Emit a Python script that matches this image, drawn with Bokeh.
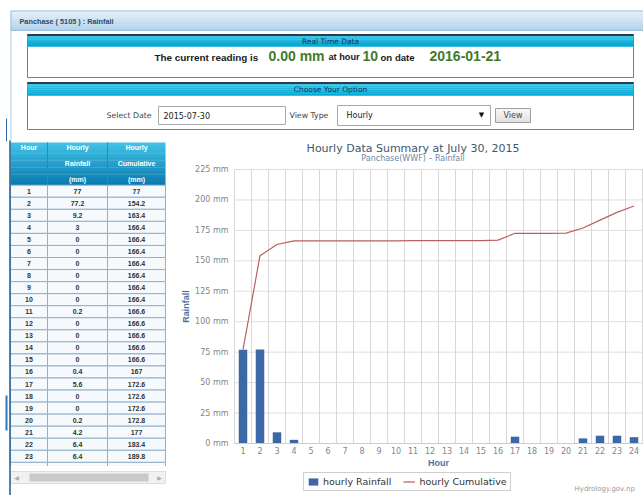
from bokeh.plotting import figure
from bokeh.models import (Range1d, FixedTicker, PrintfTickFormatter, Legend, LegendItem,
                          LinearAxis)
from bokeh.core.properties import value
from bokeh.embed import file_html
from bokeh.resources import INLINE

# ---------------- data ----------------
hours = list(range(1, 25))
rainfall = [77, 77.2, 9.2, 3, 0, 0, 0, 0, 0, 0, 0.2, 0, 0, 0, 0, 0.4, 5.6, 0, 0, 0.2, 4.2, 6.4, 6.4, 5.2]
cumulative = [77, 154.2, 163.4, 166.4, 166.4, 166.4, 166.4, 166.4, 166.4, 166.4, 166.6, 166.6,
              166.6, 166.6, 166.6, 167, 172.6, 172.6, 172.6, 172.8, 177, 183.4, 189.8, 195]
y_ticks = [0, 25, 50, 75, 100, 125, 150, 175, 200, 225]
table_headers = [["Hour"], ["Hourly", "Rainfall", "(mm)"], ["Hourly", "Cumulative", "(mm)"]]
station_title = "Panchase ( 5105 ) : Rainfall"
chart_title = "Hourly Data Summary at July 30, 2015"
chart_subtitle = "Panchase(WWF) \u2013 Rainfall"
current_value = "0.00 mm"
current_hour = "10"
current_date = "2016-01-21"
selected_date = "2015-07-30"
view_type = "Hourly"
credit = "Hydrology.gov.np"

UI = "DejaVu Sans"
ARIAL = "Liberation Sans"

# ---------------- page geometry (pixels) ----------------
W, H = 643, 495
PLOT_L, PX_PER_HOUR = 234, 17.0
PLOT_T, PLOT_B = 169, 443
ROW_H, HDR_TOP, HDR_BOT = 12.05, 142, 184.7

x_start = hours[0] - 0.5 - PLOT_L / PX_PER_HOUR
x_end = x_start + W / PX_PER_HOUR
y_scale = (PLOT_B - PLOT_T) / y_ticks[-1]
y_start = -(H - PLOT_B) / y_scale
y_end = PLOT_B / y_scale


def r(px):
    return (px - HDR_BOT) / ROW_H + 0.5


p = figure(width=W, height=H, x_range=Range1d(x_start, x_end), y_range=Range1d(y_start, y_end),
           output_backend="svg", toolbar_location=None, min_border=0,
           x_axis_location=None, y_axis_location=None)
p.extra_x_ranges = {"px": Range1d(0, W)}
p.extra_y_ranges = {"px": Range1d(H, 0), "row": Range1d(r(H), r(0))}
p.grid.visible = False
p.outline_line_color = None
p.background_fill_color = "white"
p.border_fill_color = "white"

PX = dict(x_range_name="px", y_range_name="px")


def mix(c1, c2, t):
    a = [int(c1[i:i + 2], 16) for i in (1, 3, 5)]
    b = [int(c2[i:i + 2], 16) for i in (1, 3, 5)]
    return "#%02x%02x%02x" % tuple(round(a[k] + (b[k] - a[k]) * t) for k in range(3))


def add_text(x, y, s, size, color, font=UI, style="normal", align="left", angle=0.0):
    p.text(x=[x], y=[y], text=[s], text_font=value(font), text_font_size=value(size),
           text_color=color, text_font_style=style, text_align=align, text_baseline="middle",
           angle=angle, **PX)


def gradient(x0, x1, y0, y1, c_top, c_bot, n=8):
    h = (y1 - y0) / n
    p.quad(left=[x0] * n, right=[x1] * n,
           top=[y0 + i * h for i in range(n)], bottom=[y0 + (i + 1) * h + 0.3 for i in range(n)],
           fill_color=[mix(c_top, c_bot, i / (n - 1)) for i in range(n)], line_color=None, **PX)


def box(x0, x1, y0, y1, fill, line, lw=1):
    p.quad(left=[x0], right=[x1], top=[y0], bottom=[y1], fill_color=fill, line_color=line,
           line_width=lw, **PX)


def vline(x, y0, y1, color, lw=1):
    p.segment(x0=[x], y0=[y0], x1=[x], y1=[y1], line_color=color, line_width=lw, **PX)


# ---------------- page header + panels ----------------
gradient(10, 644, 10, 30, "#e3eff9", "#b0d1eb", n=10)
box(10.5, 644, 10.5, 30, None, "#9ac0de")
add_text(19, 20.5, station_title, "7.3px", "#2f4a66", ARIAL, "bold")
vline(10.5, 30, 140, "#a9c9e3")
vline(6, 118, 141, "#2a6da8", 1)
vline(6, 395, 430, "#2a7ac0", 2)

# Real time data panel
box(27, 633, 34, 77, "white", "#7d7d7d")
gradient(27, 633, 35, 46, "#3ac2e6", "#03a8d3", n=6)
p.segment(x0=[27], y0=[34.5], x1=[633], y1=[34.5], line_color="#2b3d4a", line_width=2, **PX)
add_text(330, 40.7, "Real Time Data", "7.5px", "#1b3550", UI, "normal", "center")
add_text(154, 56.5, "The current reading is", "9.9px", "#1a1a1a", ARIAL, "bold")
add_text(268, 55.5, current_value, "14px", "#3f7b2b", ARIAL, "bold")
add_text(328, 56.5, "at hour", "9.2px", "#1a1a1a", ARIAL, "bold")
add_text(362, 55.5, current_hour, "14px", "#3f7b2b", ARIAL, "bold")
add_text(380, 56.5, "on date", "9.6px", "#1a1a1a", ARIAL, "bold")
add_text(429, 55.5, current_date, "14px", "#3f7b2b", ARIAL, "bold")

# Choose your option panel
box(27, 633, 82, 129, "white", "#7d7d7d")
gradient(27, 633, 83, 95, "#3ac2e6", "#03a8d3", n=6)
p.segment(x0=[27], y0=[82.5], x1=[633], y1=[82.5], line_color="#2b3d4a", line_width=2, **PX)
add_text(330, 89, "Choose Your Option", "7.5px", "#1b3550", UI, "normal", "center")
add_text(106, 115, "Select Date", "7.8px", "#444444", UI)
box(158, 285, 106, 124, "white", "#a9a9a9")
add_text(163, 115, selected_date, "8px", "#222222", UI)
add_text(289, 115, "View Type", "7.8px", "#444444", UI)
box(337, 490, 105, 125, "white", "#a9a9a9")
add_text(346, 115, view_type, "8px", "#222222", UI)
add_text(481, 114.5, "\u25bc", "7px", "#111111", UI, "normal", "center")
gradient(495, 530, 108, 122, "#f7f7f7", "#e2e2e2", n=5)
box(495, 530, 108, 122, None, "#a0a0a0")
add_text(512.5, 115, "View", "8px", "#444444", UI, "normal", "center")

# ---------------- data table ----------------
col_edges = [10, 47, 107, 165]
col_centers = [(col_edges[i] + col_edges[i + 1]) / 2 for i in range(3)]

gradient(10, 165, HDR_TOP, HDR_BOT, "#3fc0e4", "#0b7db0", n=12)
for xe in col_edges[1:3]:
    vline(xe, HDR_TOP, HDR_BOT, "#2a8ab7")
header_rows = [147, 163, 179]
for j, lines in enumerate(table_headers):
    for k, s in enumerate(lines):
        add_text(col_centers[j], header_rows[k], s, "7px", "white", ARIAL, "bold", "center")

row_top = [h - 0.5 for h in hours]
row_bot = [h + 0.5 for h in hours]
for j in range(3):
    p.quad(left=[col_edges[j]] * len(hours), right=[col_edges[j + 1]] * len(hours),
           top=row_top, bottom=row_bot, fill_color="#f6fafd", line_color="#8fb0ca", line_width=1,
           x_range_name="px", y_range_name="row")
cols_text = [[str(h) for h in hours], [f"{v:g}" for v in rainfall], [f"{v:g}" for v in cumulative]]
for j in range(3):
    p.text(x=[col_centers[j]] * len(hours), y=hours, text=cols_text[j],
           text_font=value(ARIAL), text_font_size=value("7px"), text_font_style="bold",
           text_color="#333333", text_align="center", text_baseline="middle",
           x_range_name="px", y_range_name="row")

# cover of the scrolled-off part + scrollbar
box(8, 168, 465.5, 495, "white", None)
box(10, 165, 471, 483, "#f1f1f1", "#dcdcdc")
box(29, 148, 473, 481, "#c9c9c9", None)
add_text(16, 477, "\u25c0", "6px", "#a8a8a8", UI, "normal", "center")
add_text(159, 477, "\u25b6", "6px", "#a8a8a8", UI, "normal", "center")
vline(9.5, 140, 495, "#1e5c8e", 1.5)

# ---------------- chart ----------------
add_text(412.5, 148, chart_title, "11px", "#3e576f", UI, "normal", "center")
add_text(412.5, 157.5, chart_subtitle, "8px", "#6d869f", UI, "normal", "center")

edges = [h - 0.5 for h in hours] + [hours[-1] + 0.5]
p.segment(x0=[edges[0]] * len(y_ticks), y0=y_ticks, x1=[edges[-1]] * len(y_ticks), y1=y_ticks,
          line_color="#dedede", line_width=1)
p.segment(x0=edges, y0=[y_ticks[0]] * len(edges), x1=edges, y1=[y_ticks[-1]] * len(edges),
          line_color="#d8d8d8", line_width=1)

bars = p.vbar(x=hours, top=rainfall, width=0.5, fill_color="#3d68a8", line_color=None)
cum = p.line(x=hours, y=cumulative, line_color="#bb5f5f", line_width=1.2)

xaxis = LinearAxis(ticker=FixedTicker(ticks=hours), fixed_location=0, bounds=(edges[0], edges[-1]),
                   axis_label="Hour")
yaxis = LinearAxis(ticker=FixedTicker(ticks=y_ticks), fixed_location=edges[0],
                   bounds=(y_ticks[0], y_ticks[-1]), formatter=PrintfTickFormatter(format="%d mm"),
                   axis_label="Rainfall")
xaxis.axis_line_color = "#c0d0e0"
xaxis.major_label_standoff = 3
xaxis.axis_label_standoff = 1
yaxis.axis_line_color = None
yaxis.major_label_standoff = 6
yaxis.axis_label_standoff = 1
for ax in (xaxis, yaxis):
    ax.major_tick_line_color = None
    ax.minor_tick_line_color = None
    ax.major_tick_out = 0
    ax.major_tick_in = 0
    ax.minor_tick_out = 0
    ax.minor_tick_in = 0
    ax.major_label_text_font = UI
    ax.major_label_text_font_size = "8px"
    ax.major_label_text_color = "#858585"
    ax.axis_label_text_font = ARIAL
    ax.axis_label_text_font_style = "bold"
    ax.axis_label_text_font_size = "9px"
    ax.axis_label_text_color = "#4d759e"
p.add_layout(xaxis, "below")
p.add_layout(yaxis, "left")

legend = Legend(items=[LegendItem(label="hourly Rainfall", renderers=[bars]),
                       LegendItem(label="hourly Cumulative", renderers=[cum])],
                orientation="horizontal", location=(303, 4),
                border_line_color="#a0a0a0", border_line_width=1, background_fill_color="white",
                padding=3, spacing=12, label_standoff=4, glyph_width=12, glyph_height=9,
                label_height=10, margin=0,
                label_text_font=UI, label_text_font_size="9.5px", label_text_color="#333333")
p.add_layout(legend)

add_text(574, 488, credit, "7px", "#9a9a9a", UI)

open("out.html", "w").write(file_html(p, INLINE))
